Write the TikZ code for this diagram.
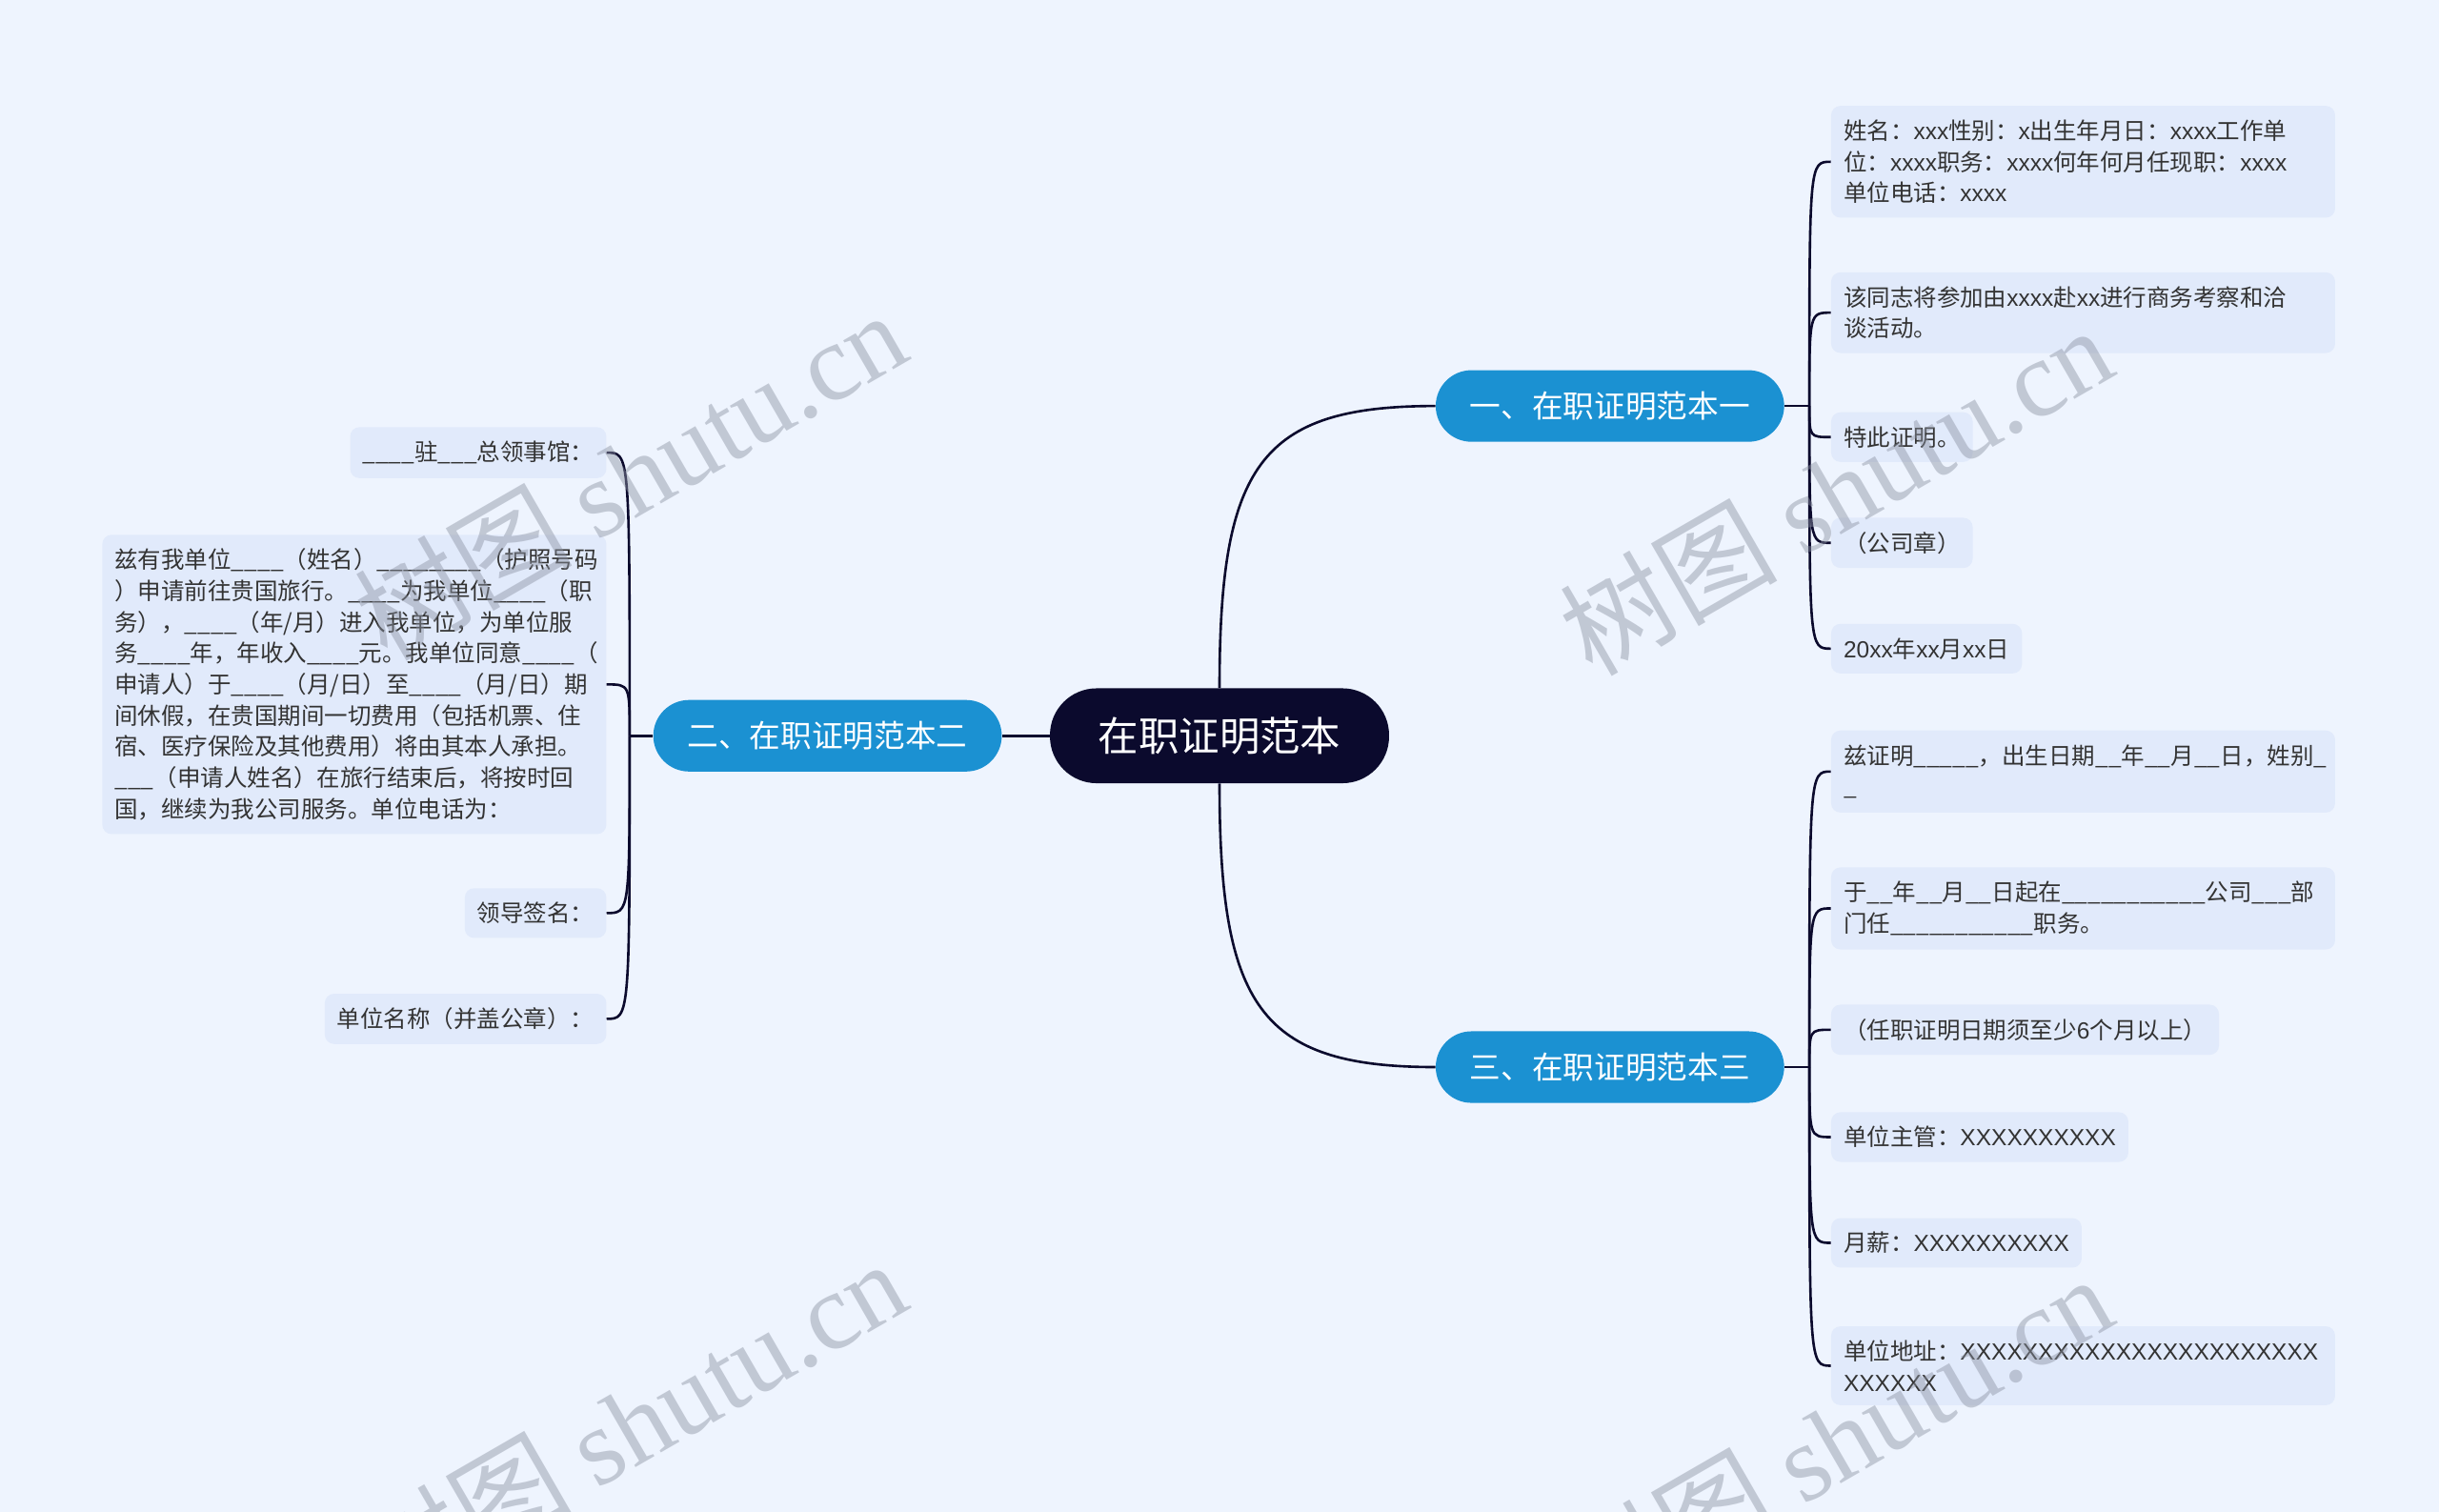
\documentclass[tikz,border=0pt]{standalone}
\usepackage{fontspec}
\setmainfont{Noto Sans CJK SC}
\newfontfamily\markfont{Liberation Serif}
\newfontfamily\latinfont{Liberation Sans}
\newcommand\ltn[1]{{\latinfont #1}}
\usetikzlibrary{positioning}
\definecolor{pagebg}{HTML}{EEF4FE}
\definecolor{leafbg}{HTML}{E1EAFB}
\definecolor{rootnavy}{HTML}{0B0A2D}
\definecolor{branchblue}{HTML}{1B91D2}
\definecolor{inkline}{HTML}{0B0A2D}
\definecolor{markgray}{HTML}{8C93A3}

\begin{document}
\begin{tikzpicture}[x=1pt, y=-1pt,
  root/.style={fill=rootnavy, rounded corners=30pt, minimum width=218pt,
               minimum height=61pt, inner sep=0pt, text=white,
               font=\fontsize{26}{30}\selectfont},
  branch/.style={fill=branchblue, rounded corners=23pt, minimum width=224pt,
                 minimum height=46pt, inner sep=0pt, text=white,
                 font=\fontsize{20}{24}\selectfont},
  leaf/.style={fill=leafbg, rounded corners=6pt, inner xsep=8pt, inner ysep=9pt,
               align=left, text=black!80, font=\fontsize{15}{20}\selectfont},
  wide/.style={leaf, text width=308pt},
  link/.style={draw=inkline, line width=1.6pt},
  wmark/.style={text=markgray, opacity=0.45, inner sep=0pt, rotate=30,
                font=\fontsize{70}{70}\selectfont}
]
  % Page
  \useasboundingbox (0,0) rectangle (1568,972);
  \fill[pagebg] (0,0) rectangle (1568,972);

  % Centre and branches
  \node[root] (root) at (784,473) {在职证明范本};
  \node[branch] (one) at (1035,261) {一、在职证明范本一};
  \node[branch] (two) at (532,473) {二、在职证明范本二};
  \node[branch] (three) at (1035,686) {三、在职证明范本三};

  % Branch one
  \node[wide, anchor=west] (one-a) at (1177,104) {姓名：\ltn{xxx}性别：\ltn{x}出生年月日：\ltn{xxxx}工作单\\位：\ltn{xxxx}职务：\ltn{xxxx}何年何月任现职：\ltn{xxxx}\\单位电话：\ltn{xxxx}};
  \node[wide, anchor=west] (one-b) at (1177,201) {该同志将参加由\ltn{xxxx}赴\ltn{xx}进行商务考察和洽\\谈活动。};
  \node[leaf, anchor=west] (one-c) at (1177,281) {特此证明。};
  \node[leaf, anchor=west] (one-d) at (1177,349) {（公司章）};
  \node[leaf, anchor=west] (one-e) at (1177,417) {\ltn{20xx}年\ltn{xx}月\ltn{xx}日};

  % Branch two
  \node[leaf, anchor=east] (two-a) at (390,291) {\_\_\_\_驻\_\_\_总领事馆：};
  \node[wide, anchor=east] (two-b) at (390,440) {兹有我单位\_\_\_\_（姓名）\_\_\_\_\_\_\_\_（护照号码\\）申请前往贵国旅行。\_\_\_\_为我单位\_\_\_\_（职\\务），\_\_\_\_（年/月）进入我单位，为单位服\\务\_\_\_\_年，年收入\_\_\_\_元。我单位同意\_\_\_\_（\\申请人）于\_\_\_\_（月/日）至\_\_\_\_（月/日）期\\间休假，在贵国期间一切费用（包括机票、住\\宿、医疗保险及其他费用）将由其本人承担。\\\_\_\_（申请人姓名）在旅行结束后，将按时回\\国，继续为我公司服务。单位电话为：};
  \node[leaf, anchor=east] (two-c) at (390,587) {领导签名：};
  \node[leaf, anchor=east] (two-d) at (390,655) {单位名称（并盖公章）：};

  % Branch three
  \node[wide, anchor=west] (three-a) at (1177,496) {兹证明\_\_\_\_\_，出生日期\_\_年\_\_月\_\_日，姓别\_\\\_};
  \node[wide, anchor=west] (three-b) at (1177,584) {于\_\_年\_\_月\_\_日起在\_\_\_\_\_\_\_\_\_\_\_公司\_\_\_部\\门任\_\_\_\_\_\_\_\_\_\_\_职务。};
  \node[leaf, anchor=west] (three-c) at (1177,662) {（任职证明日期须至少\ltn{6}个月以上）};
  \node[leaf, anchor=west] (three-d) at (1177,731) {单位主管：\ltn{XXXXXXXXXX}};
  \node[leaf, anchor=west] (three-e) at (1177,799) {月薪：\ltn{XXXXXXXXXX}};
  \node[wide, anchor=west] (three-f) at (1177,878) {单位地址：\ltn{XXXXXXXXXXXXXXXXXXXXXXX}\\\ltn{XXXXXX}};

  % Main links
  \draw[link] (root.north) .. controls +(0,-143) and +(-113,0) .. (one.west);
  \draw[link] (root.south) .. controls +(0,143) and +(-113,0) .. (three.west);
  \draw[link] (root.west) -- (two.east);

  % Leaf links
  \coordinate (one-j) at ([xshift=16pt]one.east);
  \coordinate (two-j) at ([xshift=-15pt]two.west);
  \coordinate (three-j) at ([xshift=16pt]three.east);
  \draw[link] (one.east) -- (one-j);
  \draw[link] (two.west) -- (two-j);
  \draw[link] (three.east) -- (three-j);
  \foreach \n in {a,b,c,d,e}
    \draw[link] (one-j) .. controls (one-j |- one-\n.west) .. (one-\n.west);
  \foreach \n in {a,b,c,d}
    \draw[link] (two-j) .. controls (two-j |- two-\n.east) .. (two-\n.east);
  \foreach \n in {a,b,c,d,e,f}
    \draw[link] (three-j) .. controls (three-j |- three-\n.west) .. (three-\n.west);

  % Watermarks
  \node[wmark] (wm-a) at (405,305) {树图 {\markfont shutu.cn}};
  \node[wmark] (wm-b) at (1180,315) {树图 {\markfont shutu.cn}};
  \node[wmark] (wm-c) at (405,915) {树图 {\markfont shutu.cn}};
  \node[wmark] (wm-d) at (1180,925) {树图 {\markfont shutu.cn}};
\end{tikzpicture}
\end{document}
